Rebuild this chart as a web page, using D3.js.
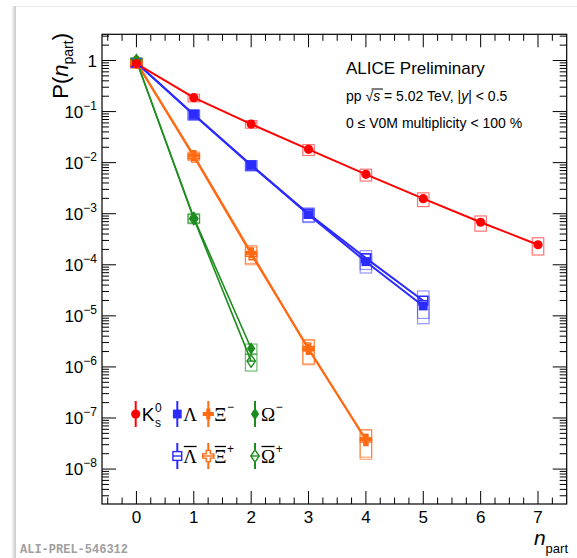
<!DOCTYPE html>
<html><head><meta charset="utf-8">
<script src="https://cdn.jsdelivr.net/npm/d3@7"></script>
<style>
body{margin:0;background:#fff}
svg{display:block;font-family:"Liberation Sans",Arial,Helvetica,sans-serif}
text{fill:#000}
</style>
</head><body>
<svg id="c" width="577" height="558"></svg>
<script>
// Multiplicity distributions of strange hadrons per event, P(n_part)
const nPart = [0, 1, 2, 3, 4, 5, 6, 7];

const k0s        = [0.87, 0.187, 0.057, 0.0182, 0.0059, 0.00197, 6.8e-4, 2.47e-4];
const k0sSys     = [0.18, 0.17, 0.17, 0.24, 0.26, 0.30, 0.33, 0.37];
const lambda     = [0.90, 0.088, 0.0090, 9.6e-4, 1.15e-4, 1.56e-5];
const lambdaSys  = [0.18, 0.22, 0.22, 0.30, 0.40, 0.55];
const antiLambda = [0.90, 0.087, 0.0088, 1.0e-3, 1.35e-4, 1.98e-5];
const antiLambdaSys = [0.18, 0.22, 0.22, 0.30, 0.40, 0.55];
const xi         = [0.92, 0.0138, 1.72e-4, 2.21e-6, 3.8e-8];
const xiSys      = [0.15, 0.17, 0.38, 0.50, 0.55];
const antiXi     = [0.92, 0.0132, 1.62e-4, 2.3e-6, 3.7e-8];
const antiXiSys  = [0.15, 0.17, 0.38, 0.50, 0.58];
const omega      = [0.99, 8.3e-4, 2.3e-6];
const omegaSys   = [0.12, 0.20, 0.22];
const antiOmega  = [0.99, 8.0e-4, 1.3e-6];
const antiOmegaSys = [0.12, 0.20, 0.36];

const xTickLabels = ["0", "1", "2", "3", "4", "5", "6", "7"];
const yDecades = [0, -1, -2, -3, -4, -5, -6, -7, -8];

const xDomain = [-0.6, 7.5];
const yDomain = [2.07e-9, 3.26];

const svg = d3.select("#c");
const F = {l: 102, r: 566.7, t: 34.3, b: 504};

const x = d3.scaleLinear().domain(xDomain).range([F.l, F.r]);
const y = d3.scaleLog().domain(yDomain).range([F.b, F.t]);

const SERIF = "'Liberation Serif','Times New Roman',serif";
const MONO = "'Liberation Mono','Courier New',monospace";

// canvas edge shading
const defs = svg.append("defs");
const g1 = defs.append("linearGradient").attr("id", "edge").attr("x1", 0).attr("x2", 1);
g1.append("stop").attr("offset", 0).attr("stop-color", "#ffffff");
g1.append("stop").attr("offset", 1).attr("stop-color", "#c8c8c8");
svg.append("rect").attr("x", 11).attr("y", 6).attr("width", 5).attr("height", 552).attr("fill", "url(#edge)");
svg.append("line").attr("x1", 16).attr("x2", 577).attr("y1", 6.5).attr("y2", 6.5).attr("stroke", "#ececec");

// antiparticles first so the filled markers sit on top
const series = [
  {vals: antiLambda, sys: antiLambdaSys, color: "#2b2bff", box: "rgba(60,60,255,0.55)", marker: "square",   open: true,  lw: 2},
  {vals: lambda,     sys: lambdaSys,     color: "#2b2bff", box: "rgba(60,60,255,0.55)", marker: "square",   open: false, lw: 2},
  {vals: antiXi,     sys: antiXiSys,     color: "#ff6a13", box: "rgba(255,110,30,0.6)", marker: "cross",    open: true,  lw: 2},
  {vals: xi,         sys: xiSys,         color: "#ff6a13", box: "rgba(255,110,30,0.6)", marker: "cross",    open: false, lw: 2},
  {vals: antiOmega,  sys: antiOmegaSys,  color: "#1e8c1e", box: "rgba(30,150,30,0.65)", marker: "diamond",  open: true,  lw: 1.6},
  {vals: omega,      sys: omegaSys,      color: "#1e8c1e", box: "rgba(30,150,30,0.65)", marker: "diamond",  open: false, lw: 1.6},
  {vals: k0s,        sys: k0sSys,        color: "#ff0000", box: "rgba(255,0,0,0.55)",   marker: "circle",   open: false, lw: 2}
];

const plot = svg.append("g");
const boxHalf = 0.1;

// systematic boxes
series.forEach(s => {
  plot.append("g").selectAll("rect").data(s.vals).join("rect")
    .attr("x", (d, i) => x(nPart[i] - boxHalf))
    .attr("width", (d, i) => x(nPart[i] + boxHalf) - x(nPart[i] - boxHalf))
    .attr("y", (d, i) => y(d * (1 + s.sys[i])))
    .attr("height", (d, i) => y(d * (1 - s.sys[i])) - y(d * (1 + s.sys[i])))
    .attr("fill", "none").attr("stroke", s.box).attr("stroke-width", 1.2);
});

// connecting curves
const line = d3.line().x((d, i) => x(nPart[i])).y(d => y(d));
series.forEach(s => {
  plot.append("path").datum(s.vals).attr("d", line)
    .attr("fill", "none").attr("stroke", s.color).attr("stroke-width", s.lw);
});

function drawMarker(g, type, open, color, cx, cy) {
  const fill = open ? "none" : color;
  const sw = 1.4;
  if (type === "circle") {
    g.append("circle").attr("cx", cx).attr("cy", cy).attr("r", 4.6).attr("fill", fill).attr("stroke", color).attr("stroke-width", open ? sw : 0);
  } else if (type === "square") {
    const h = 4.4;
    g.append("rect").attr("x", cx - h).attr("y", cy - h).attr("width", 2 * h).attr("height", 2 * h)
      .attr("fill", fill).attr("stroke", color).attr("stroke-width", open ? sw : 0);
    if (open) g.append("line").attr("x1", cx - h).attr("x2", cx + h).attr("y1", cy).attr("y2", cy).attr("stroke", color).attr("stroke-width", sw);
  } else if (type === "cross") {
    const a = 5.6, b = 2.1;
    const p = [[-b,-a],[b,-a],[b,-b],[a,-b],[a,b],[b,b],[b,a],[-b,a],[-b,b],[-a,b],[-a,-b],[-b,-b]];
    g.append("path").attr("d", "M" + p.map(q => [cx + q[0], cy + q[1]].join(",")).join("L") + "Z")
      .attr("fill", fill).attr("stroke", color).attr("stroke-width", open ? sw : 0);
    if (open) g.append("line").attr("x1", cx - a).attr("x2", cx + a).attr("y1", cy).attr("y2", cy).attr("stroke", color).attr("stroke-width", sw);
  } else if (type === "diamond") {
    const w = 4.2, h = 6.2;
    g.append("path").attr("d", `M${cx},${cy - h}L${cx + w},${cy}L${cx},${cy + h}L${cx - w},${cy}Z`)
      .attr("fill", fill).attr("stroke", color).attr("stroke-width", open ? sw : 0);
    if (open) g.append("line").attr("x1", cx - w).attr("x2", cx + w).attr("y1", cy).attr("y2", cy).attr("stroke", color).attr("stroke-width", sw);
  }
}

// markers
series.forEach(s => {
  const g = plot.append("g");
  s.vals.forEach((d, i) => drawMarker(g, s.marker, s.open, s.color, x(nPart[i]), y(d)));
});

// frame
svg.append("rect").attr("x", F.l).attr("y", F.t).attr("width", F.r - F.l).attr("height", F.b - F.t)
  .attr("fill", "none").attr("stroke", "#000").attr("stroke-width", 1.2);

// ticks
const axes = svg.append("g").attr("stroke", "#000").attr("stroke-width", 1);
const xMinor = d3.range(-0.5, 7.5, 0.25).filter(v => Math.abs(v - Math.round(v)) > 1e-6);
const xMajor = nPart;
xMajor.forEach(v => {
  axes.append("line").attr("x1", x(v)).attr("x2", x(v)).attr("y1", F.b).attr("y2", F.b - 13);
  axes.append("line").attr("x1", x(v)).attr("x2", x(v)).attr("y1", F.t).attr("y2", F.t + 13);
});
xMinor.forEach(v => {
  axes.append("line").attr("x1", x(v)).attr("x2", x(v)).attr("y1", F.b).attr("y2", F.b - 6.5);
  axes.append("line").attr("x1", x(v)).attr("x2", x(v)).attr("y1", F.t).attr("y2", F.t + 6.5);
});
const yMinor = [];
for (let e = -9; e <= 0; e++) for (let m = 2; m <= 9; m++) {
  const v = m * Math.pow(10, e);
  if (v > yDomain[0] && v < yDomain[1]) yMinor.push(v);
}
yDecades.forEach(e => {
  const v = Math.pow(10, e);
  axes.append("line").attr("x1", F.l).attr("x2", F.l + 14).attr("y1", y(v)).attr("y2", y(v));
  axes.append("line").attr("x1", F.r).attr("x2", F.r - 14).attr("y1", y(v)).attr("y2", y(v));
});
yMinor.forEach(v => {
  axes.append("line").attr("x1", F.l).attr("x2", F.l + 7).attr("y1", y(v)).attr("y2", y(v));
  axes.append("line").attr("x1", F.r).attr("x2", F.r - 7).attr("y1", y(v)).attr("y2", y(v));
});

// tick labels
const tl = svg.append("g");
xTickLabels.forEach((t, i) => {
  tl.append("text").attr("x", x(xMajor[i])).attr("y", 523).attr("text-anchor", "middle")
    .attr("font-size", 17).text(t);
});
yDecades.forEach(e => {
  const yy = y(Math.pow(10, e)) + 6;
  const t = tl.append("text").attr("x", 97).attr("y", yy).attr("text-anchor", "end").attr("font-size", 17);
  if (e === 0) t.text("1");
  else {
    t.append("tspan").text("10");
    t.append("tspan").attr("dy", -8).attr("font-size", 12).text("\u2212" + (-e));
  }
});

// axis titles
const yt = svg.append("text").attr("transform", "translate(68,33) rotate(-90)")
  .attr("text-anchor", "end").attr("font-size", 22);
yt.append("tspan").text("P(");
yt.append("tspan").attr("font-style", "italic").text("n");
yt.append("tspan").attr("font-size", 14).attr("dy", 5).text("part");
yt.append("tspan").attr("dy", -5).text(")");

const xt = svg.append("text").attr("x", 568).attr("y", 545).attr("text-anchor", "end").attr("font-size", 21);
xt.append("tspan").attr("font-style", "italic").text("n");
xt.append("tspan").attr("font-size", 13).attr("dy", 8).text("part");

// labels
svg.append("text").attr("x", 346).attr("y", 74).attr("font-size", 17).text("ALICE Preliminary");
const t2 = svg.append("text").attr("x", 346).attr("y", 101).attr("font-size", 14);
t2.append("tspan").text("pp ");
t2.append("tspan").text("\u221A");
t2.append("tspan").attr("font-style", "italic").text("s");
t2.append("tspan").text(" = 5.02 TeV, |");
t2.append("tspan").attr("font-style", "italic").text("y");
t2.append("tspan").text("| < 0.5");
// radical overbar
svg.append("line").attr("x1", 371.5).attr("x2", 383).attr("y1", 89).attr("y2", 89).attr("stroke", "#000").attr("stroke-width", 1);
svg.append("text").attr("x", 346).attr("y", 128).attr("font-size", 14).text("0 \u2264 V0M multiplicity < 100 %");

// legend
const legend = [
  {mx: 135.7, my: 414, type: "circle",  open: false, color: "#ff0000", base: "K", sub: "s", sup: "0", serif: false},
  {mx: 177.3, my: 414, type: "square",  open: false, color: "#2b2bff", base: "\u039B", serif: true},
  {mx: 208.3, my: 414, type: "cross",   open: false, color: "#ff6a13", base: "\u039E", sup: "\u2212", serif: true},
  {mx: 255.0, my: 414, type: "diamond", open: false, color: "#1e8c1e", base: "\u03A9", sup: "\u2212", serif: true},
  {mx: 177.3, my: 456, type: "square",  open: true,  color: "#2b2bff", base: "\u039B", bar: true, serif: true},
  {mx: 208.3, my: 456, type: "cross",   open: true,  color: "#ff6a13", base: "\u039E", sup: "+", bar: true, serif: true},
  {mx: 255.0, my: 456, type: "diamond", open: true,  color: "#1e8c1e", base: "\u03A9", sup: "+", bar: true, serif: true}
];
const lg = svg.append("g");
legend.forEach(e => {
  const r = e.type === "circle" ? 4.6 : e.type === "diamond" ? 6.2 : e.type === "cross" ? 5.6 : 4.4;
  if (e.open) {
    lg.append("line").attr("x1", e.mx).attr("x2", e.mx).attr("y1", e.my - 13).attr("y2", e.my - r)
      .attr("stroke", e.color).attr("stroke-width", 2);
    lg.append("line").attr("x1", e.mx).attr("x2", e.mx).attr("y1", e.my + r).attr("y2", e.my + 13)
      .attr("stroke", e.color).attr("stroke-width", 2);
  } else {
    lg.append("line").attr("x1", e.mx).attr("x2", e.mx).attr("y1", e.my - 13).attr("y2", e.my + 13)
      .attr("stroke", e.color).attr("stroke-width", 2);
  }
  drawMarker(lg, e.type, e.open, e.color, e.mx, e.my);
  const tx = e.mx + 6;
  const t = lg.append("text").attr("x", tx).attr("y", e.my + 7).attr("font-size", 19);
  if (e.serif) t.style("font-family", SERIF);
  t.append("tspan").text(e.base);
  const w = t.node().getComputedTextLength();
  if (e.bar) {
    lg.append("line").attr("x1", tx + 0.5).attr("x2", tx + w - 0.5).attr("y1", e.my - 9.5).attr("y2", e.my - 9.5)
      .attr("stroke", "#000").attr("stroke-width", 1.3);
  }
  if (e.sub && e.sup) {
    lg.append("text").attr("x", tx + w + 0.5).attr("y", e.my + 13).attr("font-size", 12).text(e.sub);
    lg.append("text").attr("x", tx + w + 0.5).attr("y", e.my - 2).attr("font-size", 12).text(e.sup);
  } else if (e.sup) {
    lg.append("text").attr("x", tx + w + 0.5).attr("y", e.my - 3).attr("font-size", 12).text(e.sup);
  }
});

// identifier
svg.append("text").attr("x", 20).attr("y", 553).attr("font-weight", "bold").attr("font-size", 12)
  .style("font-family", MONO).style("fill", "#a0a0a0").text("ALI-PREL-546312");
</script>
</body></html>
